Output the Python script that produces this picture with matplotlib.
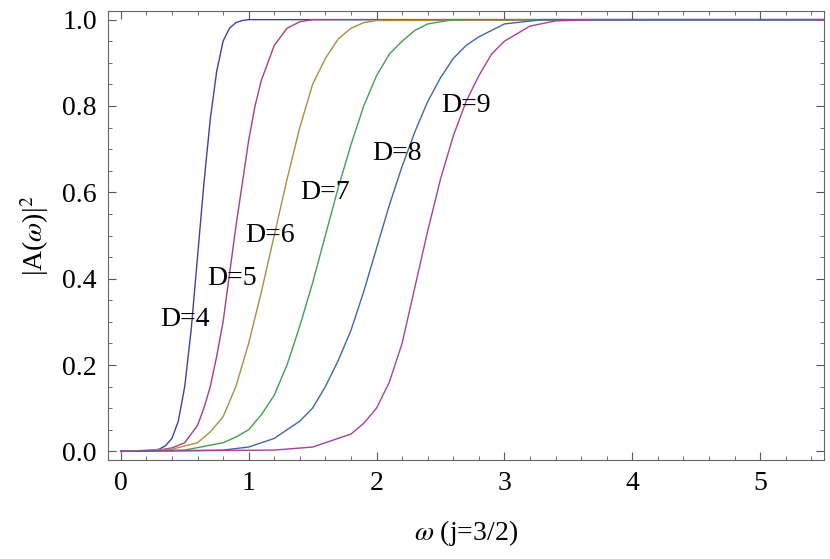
import matplotlib
matplotlib.use("Agg")
import matplotlib.pyplot as plt
from matplotlib.ticker import MultipleLocator

plt.rcParams['font.family'] = ['Liberation Serif', 'DejaVu Serif']
plt.rcParams['mathtext.fontset'] = 'stix'

x4 = [0,0.2,0.3,0.35,0.4,0.45,0.5,0.55,0.6,0.65,0.7,0.75,0.8,0.85,0.9,0.95,1.0,5.5]
y4 = [0,0.001,0.005,0.013,0.03,0.07,0.15,0.28,0.45,0.62,0.77,0.88,0.95,0.98,0.993,0.998,1,1]
x5 = [0,0.3,0.4,0.5,0.6,0.65,0.7,0.75,0.8,0.85,0.9,0.95,1.0,1.05,1.1,1.2,1.3,1.4,1.5,5.5]
y5 = [0,0.003,0.008,0.02,0.06,0.1,0.15,0.22,0.3,0.41,0.52,0.62,0.72,0.8,0.86,0.94,0.98,0.995,1,1]
x6 = [0,0.4,0.6,0.7,0.8,0.9,1.0,1.1,1.2,1.3,1.4,1.5,1.6,1.7,1.8,1.9,2.0,5.5]
y6 = [0,0.005,0.02,0.045,0.08,0.15,0.25,0.37,0.5,0.63,0.75,0.85,0.91,0.955,0.98,0.993,0.998,1]
x7 = [0,0.5,0.8,0.9,1.0,1.1,1.2,1.3,1.4,1.5,1.6,1.7,1.8,1.9,2.0,2.1,2.2,2.3,2.4,2.6,5.5]
y7 = [0,0.003,0.02,0.033,0.05,0.085,0.13,0.2,0.29,0.39,0.5,0.61,0.71,0.8,0.87,0.92,0.95,0.975,0.99,1,1]
x8 = [0,0.8,1.0,1.2,1.4,1.5,1.6,1.7,1.8,1.9,2.0,2.1,2.2,2.3,2.4,2.5,2.6,2.7,2.8,3.0,3.3,5.5]
y8 = [0,0.003,0.01,0.03,0.07,0.1,0.15,0.21,0.28,0.37,0.47,0.57,0.66,0.74,0.81,0.865,0.91,0.94,0.96,0.99,1,1]
x9 = [0,1.2,1.5,1.8,1.9,2.0,2.1,2.2,2.3,2.4,2.5,2.6,2.7,2.8,2.9,3.0,3.2,3.4,3.7,5.5]
y9 = [0,0.003,0.01,0.04,0.065,0.1,0.16,0.25,0.38,0.51,0.63,0.73,0.81,0.87,0.92,0.95,0.985,0.997,1,1]

labels = ["D=4", "D=5", "D=6", "D=7", "D=8", "D=9"]
label_pos = [(0.5, 0.305), (0.87, 0.40), (1.17, 0.50), (1.6, 0.60), (2.16, 0.69), (2.7, 0.80)]
colors = ["#4040a8", "#a8407a", "#a89040", "#40a050", "#4068a8", "#a840a0"]
series = [(x4, y4), (x5, y5), (x6, y6), (x7, y7), (x8, y8), (x9, y9)]

fig = plt.figure(figsize=(8.3, 5.59), dpi=100)
ax = fig.add_axes([108/830, 1-460/559, (824-108)/830, (460-11)/559])
for (xs, ys), c in zip(series, colors):
    ax.plot(xs, ys, color=c, lw=1.0)
for lab, (lx, ly) in zip(labels, label_pos):
    ax.text(lx, ly, lab, ha='center', va='center', fontsize=20)

ax.set_xlim(-0.1, 5.5)
ax.set_ylim(-0.02, 1.02)
ax.xaxis.set_major_locator(MultipleLocator(1))
ax.xaxis.set_minor_locator(MultipleLocator(0.2))
ax.yaxis.set_major_locator(MultipleLocator(0.2))
ax.yaxis.set_minor_locator(MultipleLocator(0.05))
ax.yaxis.set_major_formatter(matplotlib.ticker.FormatStrFormatter('%.1f'))
ax.tick_params(which='both', direction='in', top=True, right=True, labelsize=20, color='#555555')
ax.tick_params(which='major', length=6, pad=8)
ax.tick_params(which='minor', length=3)
for s in ax.spines.values():
    s.set_color('#666666')
    s.set_linewidth(0.8)
ax.set_xlabel(r'$\omega$ (j=3/2)', fontsize=20, labelpad=16)
ax.set_ylabel(r'|A($\omega$)|$^2$', fontsize=20, labelpad=8)
fig.savefig("out.png", dpi=100)
